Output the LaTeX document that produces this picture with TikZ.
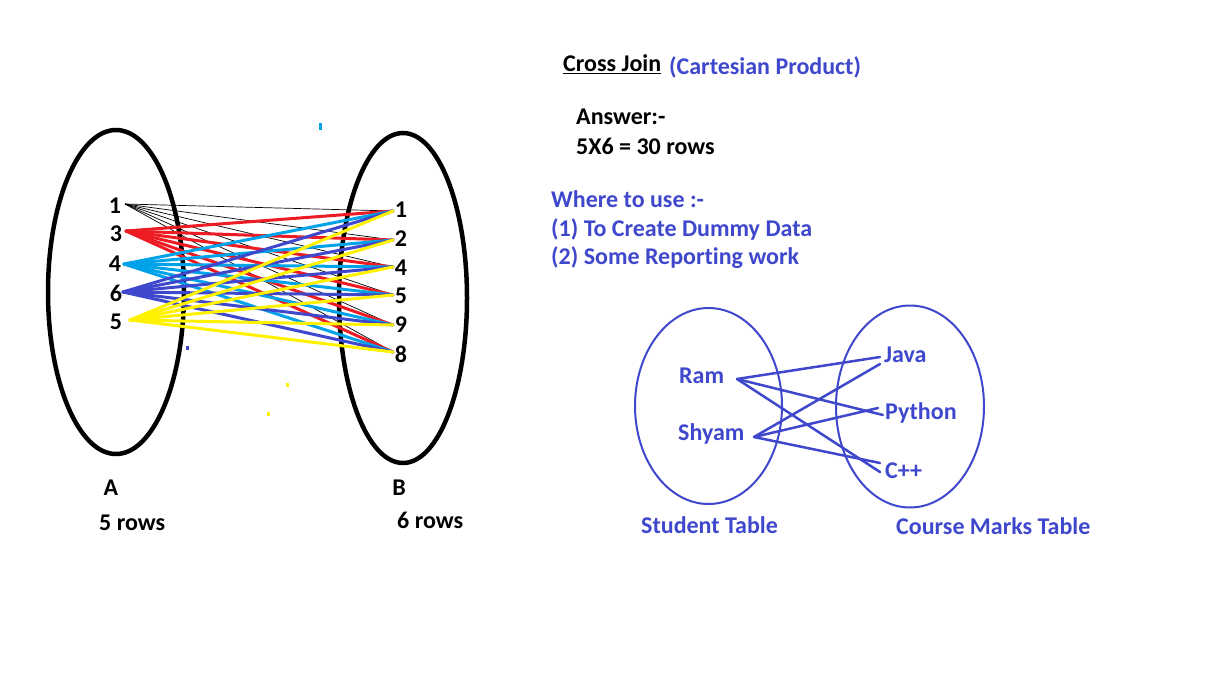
\documentclass[tikz,border=0pt]{standalone}
\usepackage{fontspec}
\setmainfont{Carlito}[Ligatures=NoCommon]
\definecolor{myblue}{HTML}{3F48CC}
\definecolor{mycyan}{HTML}{00A2E8}
\definecolor{myred}{HTML}{ED1C24}
\definecolor{myyellow}{HTML}{FFF200}
\begin{document}
\begin{tikzpicture}[x=1pt,y=-1pt,
  lbl/.style={font=\fontsize{24}{28}\selectfont\bfseries, inner sep=0pt},
  txt/.style={lbl, anchor=west},
  btxt/.style={txt, text=myblue},
  setring/.style={line width=4.5pt, draw=black},
  tabring/.style={line width=2pt, draw=myblue},
  thinlink/.style={line width=0.7pt, draw=black},
  link/.style={line width=3pt, line cap=round},
  blink/.style={line width=2.5pt, draw=myblue, line cap=round},
  speck/.style={inner sep=0pt, minimum width=#1, minimum height=4pt}
]
\useasboundingbox[fill=white] (0,0) rectangle (1220,680);

% ---------- left set diagram ----------
\draw[setring] (116,292) ellipse [x radius=68, y radius=162];
\draw[setring] (403,298) ellipse [x radius=64, y radius=165];

\node[lbl] (l1) at (115,206) {1};
\node[lbl] (l3) at (116,234) {3};
\node[lbl] (l4) at (115,264) {4};
\node[lbl] (l6) at (116,293) {6};
\node[lbl] (l5) at (116,322) {5};

\node[lbl] (r1) at (401,210) {1};
\node[lbl] (r2) at (401,239) {2};
\node[lbl] (r4) at (401,268) {4};
\node[lbl] (r5) at (401,296) {5};
\node[lbl] (r9) at (401,325) {9};
\node[lbl] (r8) at (401,354) {8};

\coordinate (a1) at (125,204);
\coordinate (a3) at (126,231);
\coordinate (a4) at (124,264);
\coordinate (a6) at (123,292);
\coordinate (a5) at (130,320);

\coordinate (b1) at (393,211);
\coordinate (b2) at (393,240);
\coordinate (b4) at (393,267);
\coordinate (b5) at (393,295);
\coordinate (b9) at (393,325);
\coordinate (b8) at (393,352);

\foreach \b in {b1,b2,b4,b5,b9,b8} \draw[thinlink] (a1) -- (\b);
\foreach \b in {b1,b2,b4,b5,b9,b8} \draw[link, myred] (a3) -- (\b);
\foreach \b in {b1,b2,b4,b5,b9,b8} \draw[link, mycyan] (a4) -- (\b);
\foreach \b in {b1,b2,b4,b5,b9,b8} \draw[link, myblue] (a6) -- (\b);
\foreach \b in {b1,b2,b4,b5,b9,b8} \draw[link, myyellow] (a5) -- (\b);

% stray specks
\node[speck=3pt, fill=mycyan, minimum height=7pt] (s1) at (320,126) {};
\node[speck=3pt, fill=myblue] (s2) at (187,348) {};
\node[speck=3pt, fill=myyellow] (s3) at (287,385) {};
\node[speck=3pt, fill=myyellow] (s4) at (268,414) {};

\node[lbl] (A) at (111,488) {A};
\node[lbl] (B) at (399,488) {B};
\node[txt] (rowsA) at (99,523) {5 rows};
\node[txt] (rowsB) at (397,520) {6 rows};

% ---------- text block ----------
\node[txt] (title) at (563,64) {\underline{Cross Join}};
\node[btxt] (cart) at (669,67) {(Cartesian Product)};
\node[txt] (ans) at (576,117) {Answer:-};
\node[txt] (calc) at (576,146) {5X6 = 30 rows};
\node[btxt] (where) at (551,199) {Where to use :-};
\node[btxt] (use1) at (551,229) {(1) To Create Dummy Data};
\node[btxt] (use2) at (551,258) {(2) Some Reporting work};

% ---------- table diagram ----------
\draw[tabring] (708.5,406) ellipse [x radius=73.5, y radius=98];
\draw[tabring] (910,406.5) ellipse [x radius=74, y radius=101];

\node[btxt] (ram) at (679,376) {Ram};
\node[btxt] (shyam) at (678,434) {Shyam};
\node[btxt] (java) at (884,355) {Java};
\node[btxt] (python) at (885,413) {Python};
\node[btxt] (cpp) at (885,471) {C++};
\node[btxt] (stud) at (641,525) {Student Table};
\node[btxt] (course) at (896,526) {Course Marks Table};

\coordinate (pr) at (737,379);
\coordinate (ps) at (754,437);
\coordinate (pj1) at (880,357);
\coordinate (pj2) at (880,364);
\coordinate (pp1) at (883,415);
\coordinate (pp2) at (878,408);
\coordinate (pc1) at (880,472);
\coordinate (pc2) at (880,463);

\draw[blink] (pr) -- (pj1);
\draw[blink] (pr) -- (pp1);
\draw[blink] (pr) -- (pc1);
\draw[blink] (ps) -- (pj2);
\draw[blink] (ps) -- (pp2);
\draw[blink] (ps) -- (pc2);
\end{tikzpicture}
\end{document}
